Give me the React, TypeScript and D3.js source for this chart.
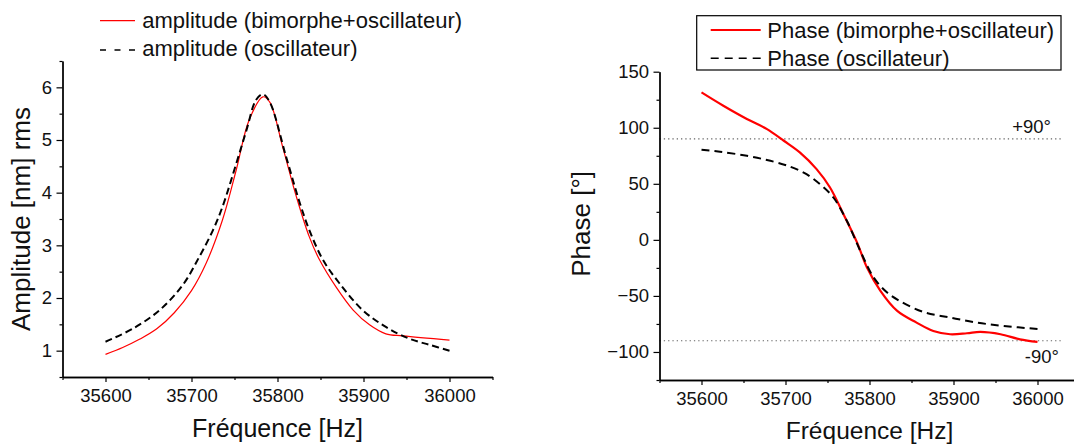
import React, { useEffect, useRef } from "react";
import * as d3 from "d3";

// ---------- data ----------
const freqAmpBimorphe = [35600, 35620, 35640, 35660, 35680, 35700, 35717, 35736, 35752, 35767, 35783, 35791, 35806, 35822, 35837, 35849, 35868, 35888, 35907, 35926, 35946, 36000];
const ampBimorphe = [0.93, 1.06, 1.22, 1.42, 1.72, 2.14, 2.66, 3.48, 4.43, 5.38, 5.82, 5.72, 4.87, 3.92, 3.16, 2.72, 2.21, 1.77, 1.49, 1.32, 1.28, 1.2];

const freqAmpOsc = [35600, 35632, 35663, 35690, 35709, 35725, 35736, 35752, 35764, 35775, 35783, 35791, 35810, 35826, 35837, 35853, 35872, 35899, 35926, 35953, 35977, 36000];
const ampOsc = [1.17, 1.42, 1.77, 2.25, 2.78, 3.29, 3.73, 4.55, 5.19, 5.76, 5.87, 5.72, 4.68, 3.8, 3.29, 2.72, 2.28, 1.77, 1.45, 1.23, 1.11, 1.0];

const freqPhaseBimorphe = [35600, 35626, 35654, 35678, 35698, 35717, 35737, 35753, 35769, 35785, 35797, 35813, 35833, 35856, 35876, 35896, 35916, 35932, 35956, 35979, 36000];
const phaseBimorphe = [131.5, 119.6, 107.8, 98.8, 88.4, 78, 63.1, 46.7, 22.9, -2, -24.7, -45.5, -63.4, -73.8, -81.3, -84.2, -83.3, -82.1, -84.2, -88.7, -91];

const freqPhaseOsc = [35600, 35622, 35654, 35682, 35706, 35725, 35741, 35757, 35773, 35789, 35805, 35821, 35836, 35864, 35896, 35928, 35960, 36000];
const phaseOsc = [80.4, 78.6, 75, 70.5, 65.2, 58.6, 49.7, 37.8, 17, -9.8, -33.6, -47, -54.5, -64.3, -69.3, -73.8, -76.8, -79.5];

const freqTicks = [35600, 35700, 35800, 35900, 36000];
const freqMinorTicks = [35550, 35650, 35750, 35850, 35950, 36050];
const ampTicks = [1, 2, 3, 4, 5, 6];
const ampMinorTicks = [0.5, 1.5, 2.5, 3.5, 4.5, 5.5, 6.5];
const phaseTicks = [-100, -50, 0, 50, 100, 150];
const phaseMinorTicks = [-125, -75, -25, 25, 75, 125];
const refLines = [90, -90];
const refLabels = ["+90°", "-90°"];
const legendAmp = ["amplitude (bimorphe+oscillateur)", "amplitude (oscillateur)"];
const legendPhase = ["Phase (bimorphe+oscillateur)", "Phase (oscillateur)"];
const xTitle = "Fréquence [Hz]";
const yTitleAmp = "Amplitude [nm] rms";
const yTitlePhase = "Phase [°]";

const FONT = "'Liberation Sans', Arial, Helvetica, sans-serif";

export default function App() {
  const axesRef = useRef<SVGGElement | null>(null);

  const xL = d3.scaleLinear().domain([35550, 36050]).range([62.5, 492.5]);
  const yL = d3.scaleLinear().domain([0.5, 6.5]).range([377, 61]);
  const xR = d3.scaleLinear().domain([35550, 36050]).range([659.5, 1079.5]);
  const yR = d3.scaleLinear().domain([-125, 150]).range([380, 71.7]);

  const curve = d3.curveCatmullRom.alpha(0.5);
  const lineL = (fs: number[], vs: number[]) =>
    d3
      .line<number>()
      .x((_, i) => xL(fs[i]))
      .y((v) => yL(v))
      .curve(curve)(vs) || "";
  const lineR = (fs: number[], vs: number[]) =>
    d3
      .line<number>()
      .x((_, i) => xR(fs[i]))
      .y((v) => yR(v))
      .curve(curve)(vs) || "";

  useEffect(() => {
    const root = d3.select(axesRef.current);
    root.selectAll("*").remove();

    const styleAxis = (g: any) => {
      g.attr("font-family", FONT).attr("font-size", 18.5);
      g.selectAll("path.domain").attr("stroke", "#000").attr("stroke-width", 1.3);
      g.selectAll("line").attr("stroke", "#000").attr("stroke-width", 1.2);
      g.selectAll("text").attr("fill", "#111");
    };

    // Left chart axes
    const gLB = root.append("g").attr("transform", `translate(0,377)`);
    gLB.call(d3.axisBottom(xL).tickValues(freqTicks).tickSize(5).tickSizeOuter(0).tickPadding(7).tickFormat(d3.format("d")));
    styleAxis(gLB);
    const gLBm = root.append("g").attr("transform", `translate(0,377)`);
    gLBm.call(d3.axisBottom(xL).tickValues(freqMinorTicks).tickSize(3).tickSizeOuter(0).tickFormat(() => ""));
    styleAxis(gLBm);

    const gLL = root.append("g").attr("transform", `translate(62.5,0)`);
    gLL.call(d3.axisLeft(yL).tickValues(ampTicks).tickSize(6).tickSizeOuter(0).tickPadding(4.5).tickFormat(d3.format("d")));
    styleAxis(gLL);
    const gLLm = root.append("g").attr("transform", `translate(62.5,0)`);
    gLLm.call(d3.axisLeft(yL).tickValues(ampMinorTicks).tickSize(3).tickSizeOuter(0).tickFormat(() => ""));
    styleAxis(gLLm);

    // Right chart axes
    const gRB = root.append("g").attr("transform", `translate(0,380)`);
    gRB.call(d3.axisBottom(xR).tickValues(freqTicks).tickSize(5).tickSizeOuter(0).tickPadding(7).tickFormat(d3.format("d")));
    styleAxis(gRB);
    const gRBm = root.append("g").attr("transform", `translate(0,380)`);
    gRBm.call(d3.axisBottom(xR).tickValues(freqMinorTicks).tickSize(3).tickSizeOuter(0).tickFormat(() => ""));
    styleAxis(gRBm);

    const gRL = root.append("g").attr("transform", `translate(659.5,0)`);
    gRL.call(d3.axisLeft(yR).tickValues(phaseTicks).tickSize(6).tickSizeOuter(0).tickPadding(4.5).tickFormat(d3.format("d")));
    styleAxis(gRL);
    const gRLm = root.append("g").attr("transform", `translate(659.5,0)`);
    gRLm.call(d3.axisLeft(yR).tickValues(phaseMinorTicks).tickSize(3).tickSizeOuter(0).tickFormat(() => ""));
    styleAxis(gRLm);
  }, []);

  const lCx = (xL.range()[0] + xL.range()[1]) / 2;
  const lCy = (yL.range()[0] + yL.range()[1]) / 2;
  const rCy = (yR.range()[0] + yR.range()[1]) / 2;

  return (
    <svg
      width={1074}
      height={444}
      style={{ position: "absolute", left: 0, top: 0, background: "#fff" }}
      fontFamily={FONT}
    >
      <rect x={0} y={0} width={1074} height={444} fill="#fff" />

      {/* ---------- Left chart ---------- */}
      <path d={lineL(freqAmpBimorphe, ampBimorphe)} fill="none" stroke="#ff0000" strokeWidth={1.2} />
      <path d={lineL(freqAmpOsc, ampOsc)} fill="none" stroke="#000" strokeWidth={2} strokeDasharray="7,4" />

      {/* left legend */}
      <line x1={100} x2={135} y1={20.7} y2={20.7} stroke="#ff0000" strokeWidth={1.2} />
      <text x={142.3} y={27.5} fontSize={22} fill="#111">{legendAmp[0]}</text>
      <line x1={100} x2={135} y1={50} y2={50} stroke="#000" strokeWidth={1.5} strokeDasharray="6,8.5" />
      <text x={142.3} y={55.5} fontSize={22} fill="#111">{legendAmp[1]}</text>

      <text x={lCx} y={437} fontSize={25} textAnchor="middle" fill="#111">{xTitle}</text>
      <text transform={`translate(30,${lCy}) rotate(-90)`} fontSize={26} textAnchor="middle" fill="#111">{yTitleAmp}</text>

      {/* ---------- Right chart ---------- */}
      {refLines.map((v, i) => (
        <line key={"ref" + i} x1={xR(35550)} x2={xR(36028)} y1={yR(v)} y2={yR(v)} stroke="#666" strokeWidth={1.2} strokeDasharray="1.3,3" />
      ))}
      <text x={1051} y={132.5} fontSize={18.5} textAnchor="end" fill="#111">{refLabels[0]}</text>
      <text x={1059} y={363} fontSize={18.5} textAnchor="end" fill="#111">{refLabels[1]}</text>

      <path d={lineR(freqPhaseBimorphe, phaseBimorphe)} fill="none" stroke="#ff0000" strokeWidth={2.2} />
      <path d={lineR(freqPhaseOsc, phaseOsc)} fill="none" stroke="#000" strokeWidth={2} strokeDasharray="8,5" />

      {/* right legend */}
      <rect x={696.7} y={15.7} width={364.3} height={54.3} fill="#fff" stroke="#000" strokeWidth={1.2} />
      <line x1={710.7} x2={760.7} y1={30} y2={30} stroke="#ff0000" strokeWidth={2} />
      <text x={767.3} y={37.5} fontSize={22} fill="#111">{legendPhase[0]}</text>
      <line x1={710.7} x2={760.7} y1={58.3} y2={58.3} stroke="#000" strokeWidth={1.5} strokeDasharray="8,6" />
      <text x={767.3} y={65.5} fontSize={22} fill="#111">{legendPhase[1]}</text>

      <text x={xR(35800)} y={439} fontSize={24.5} textAnchor="middle" fill="#111">{xTitle}</text>
      <text transform={`translate(590,${rCy - 2}) rotate(-90)`} fontSize={26} textAnchor="middle" fill="#111">{yTitlePhase}</text>

      <g ref={axesRef} />
    </svg>
  );
}
